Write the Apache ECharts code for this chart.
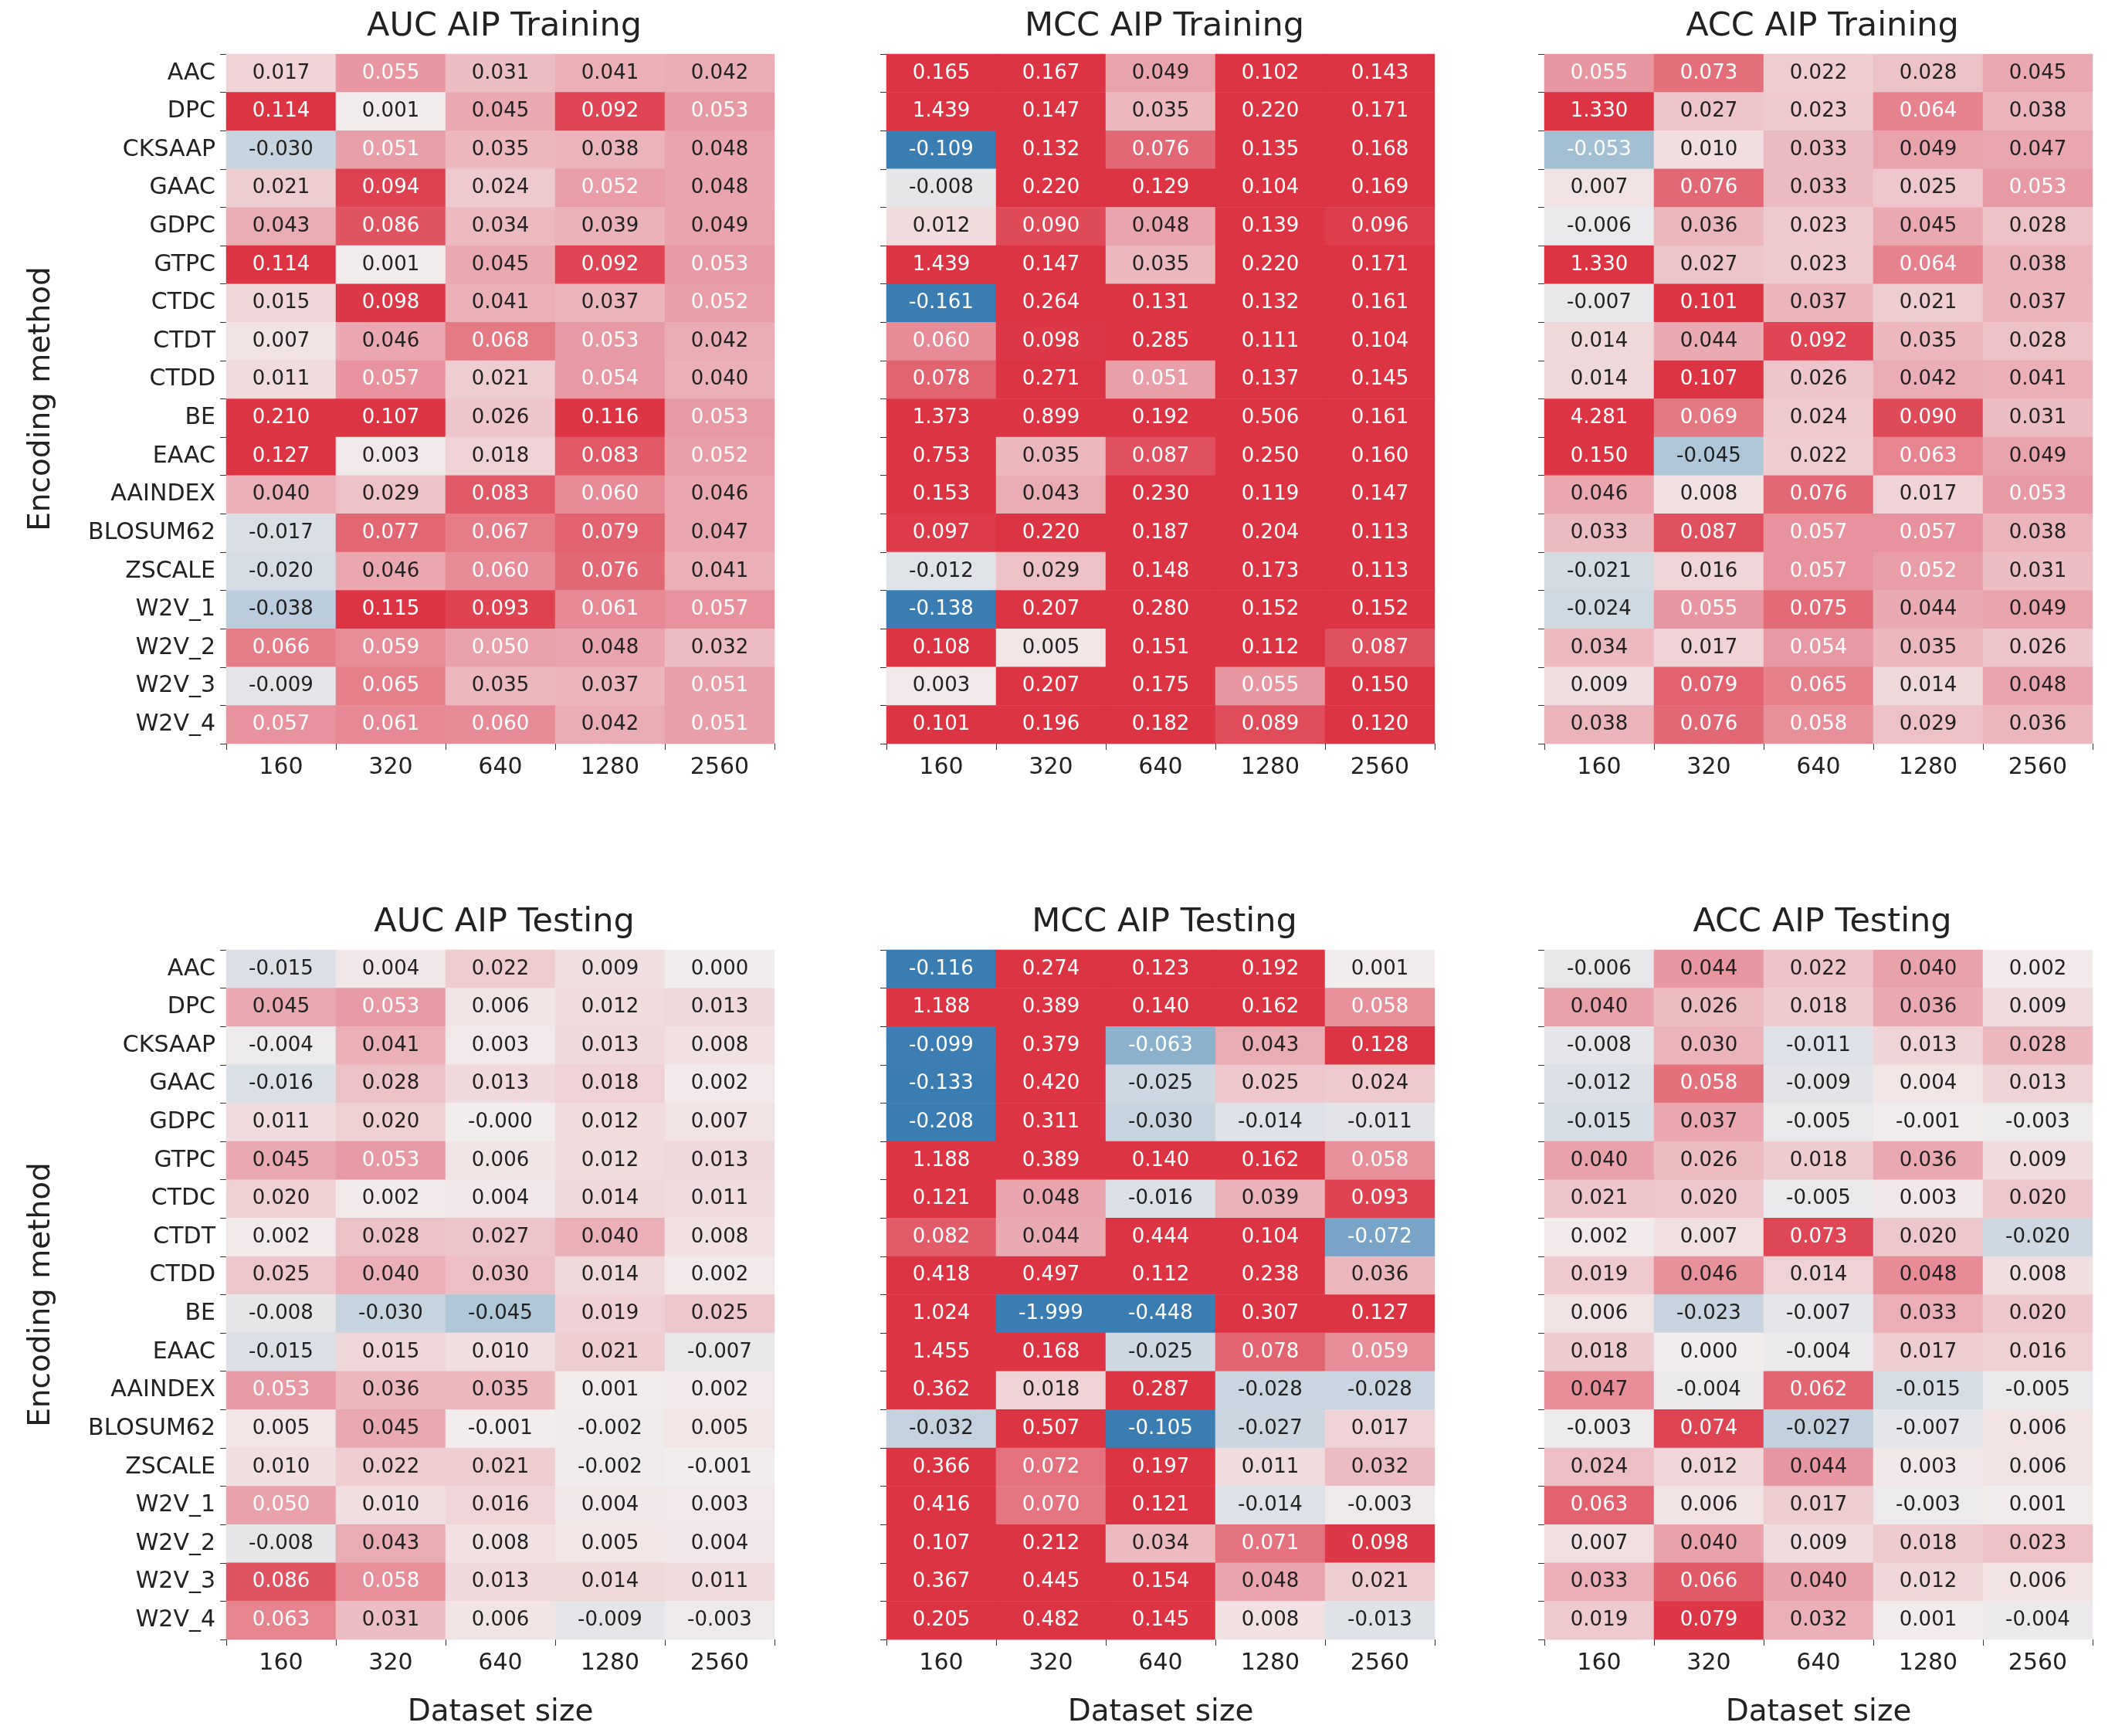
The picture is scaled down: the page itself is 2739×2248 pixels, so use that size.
<!DOCTYPE html>
<html>
<head>
    <meta charset="utf-8">
    <title>AIP heatmaps</title>
    <script src="https://cdn.jsdelivr.net/npm/echarts@6/dist/echarts.min.js"></script>
</head>
<body style="margin:0;background:#fff">
<div id="main" style="width:2739px;height:2248px;"></div>
<script type="text/javascript">
var sizes = ['160', '320', '640', '1280', '2560'];
var methods = ['AAC', 'DPC', 'CKSAAP', 'GAAC', 'GDPC', 'GTPC', 'CTDC', 'CTDT', 'CTDD', 'BE', 'EAAC',
    'AAINDEX', 'BLOSUM62', 'ZSCALE', 'W2V_1', 'W2V_2', 'W2V_3', 'W2V_4'];

var aucTrain = [
    [0.017, 0.055, 0.031, 0.041, 0.042], [0.114, 0.001, 0.045, 0.092, 0.053], [-0.030, 0.051, 0.035, 0.038, 0.048],
    [0.021, 0.094, 0.024, 0.052, 0.048], [0.043, 0.086, 0.034, 0.039, 0.049], [0.114, 0.001, 0.045, 0.092, 0.053],
    [0.015, 0.098, 0.041, 0.037, 0.052], [0.007, 0.046, 0.068, 0.053, 0.042], [0.011, 0.057, 0.021, 0.054, 0.040],
    [0.210, 0.107, 0.026, 0.116, 0.053], [0.127, 0.003, 0.018, 0.083, 0.052], [0.040, 0.029, 0.083, 0.060, 0.046],
    [-0.017, 0.077, 0.067, 0.079, 0.047], [-0.020, 0.046, 0.060, 0.076, 0.041], [-0.038, 0.115, 0.093, 0.061, 0.057],
    [0.066, 0.059, 0.050, 0.048, 0.032], [-0.009, 0.065, 0.035, 0.037, 0.051], [0.057, 0.061, 0.060, 0.042, 0.051]];
var mccTrain = [
    [0.165, 0.167, 0.049, 0.102, 0.143], [1.439, 0.147, 0.035, 0.220, 0.171], [-0.109, 0.132, 0.076, 0.135, 0.168],
    [-0.008, 0.220, 0.129, 0.104, 0.169], [0.012, 0.090, 0.048, 0.139, 0.096], [1.439, 0.147, 0.035, 0.220, 0.171],
    [-0.161, 0.264, 0.131, 0.132, 0.161], [0.060, 0.098, 0.285, 0.111, 0.104], [0.078, 0.271, 0.051, 0.137, 0.145],
    [1.373, 0.899, 0.192, 0.506, 0.161], [0.753, 0.035, 0.087, 0.250, 0.160], [0.153, 0.043, 0.230, 0.119, 0.147],
    [0.097, 0.220, 0.187, 0.204, 0.113], [-0.012, 0.029, 0.148, 0.173, 0.113], [-0.138, 0.207, 0.280, 0.152, 0.152],
    [0.108, 0.005, 0.151, 0.112, 0.087], [0.003, 0.207, 0.175, 0.055, 0.150], [0.101, 0.196, 0.182, 0.089, 0.120]];
var accTrain = [
    [0.055, 0.073, 0.022, 0.028, 0.045], [1.330, 0.027, 0.023, 0.064, 0.038], [-0.053, 0.010, 0.033, 0.049, 0.047],
    [0.007, 0.076, 0.033, 0.025, 0.053], [-0.006, 0.036, 0.023, 0.045, 0.028], [1.330, 0.027, 0.023, 0.064, 0.038],
    [-0.007, 0.101, 0.037, 0.021, 0.037], [0.014, 0.044, 0.092, 0.035, 0.028], [0.014, 0.107, 0.026, 0.042, 0.041],
    [4.281, 0.069, 0.024, 0.090, 0.031], [0.150, -0.045, 0.022, 0.063, 0.049], [0.046, 0.008, 0.076, 0.017, 0.053],
    [0.033, 0.087, 0.057, 0.057, 0.038], [-0.021, 0.016, 0.057, 0.052, 0.031], [-0.024, 0.055, 0.075, 0.044, 0.049],
    [0.034, 0.017, 0.054, 0.035, 0.026], [0.009, 0.079, 0.065, 0.014, 0.048], [0.038, 0.076, 0.058, 0.029, 0.036]];
var aucTest = [
    [-0.015, 0.004, 0.022, 0.009, 0.000], [0.045, 0.053, 0.006, 0.012, 0.013], [-0.004, 0.041, 0.003, 0.013, 0.008],
    [-0.016, 0.028, 0.013, 0.018, 0.002], [0.011, 0.020, -0.0, 0.012, 0.007], [0.045, 0.053, 0.006, 0.012, 0.013],
    [0.020, 0.002, 0.004, 0.014, 0.011], [0.002, 0.028, 0.027, 0.040, 0.008], [0.025, 0.040, 0.030, 0.014, 0.002],
    [-0.008, -0.030, -0.045, 0.019, 0.025], [-0.015, 0.015, 0.010, 0.021, -0.007], [0.053, 0.036, 0.035, 0.001, 0.002],
    [0.005, 0.045, -0.001, -0.002, 0.005], [0.010, 0.022, 0.021, -0.002, -0.001], [0.050, 0.010, 0.016, 0.004, 0.003],
    [-0.008, 0.043, 0.008, 0.005, 0.004], [0.086, 0.058, 0.013, 0.014, 0.011], [0.063, 0.031, 0.006, -0.009, -0.003]];
var mccTest = [
    [-0.116, 0.274, 0.123, 0.192, 0.001], [1.188, 0.389, 0.140, 0.162, 0.058], [-0.099, 0.379, -0.063, 0.043, 0.128],
    [-0.133, 0.420, -0.025, 0.025, 0.024], [-0.208, 0.311, -0.030, -0.014, -0.011], [1.188, 0.389, 0.140, 0.162, 0.058],
    [0.121, 0.048, -0.016, 0.039, 0.093], [0.082, 0.044, 0.444, 0.104, -0.072], [0.418, 0.497, 0.112, 0.238, 0.036],
    [1.024, -1.999, -0.448, 0.307, 0.127], [1.455, 0.168, -0.025, 0.078, 0.059], [0.362, 0.018, 0.287, -0.028, -0.028],
    [-0.032, 0.507, -0.105, -0.027, 0.017], [0.366, 0.072, 0.197, 0.011, 0.032], [0.416, 0.070, 0.121, -0.014, -0.003],
    [0.107, 0.212, 0.034, 0.071, 0.098], [0.367, 0.445, 0.154, 0.048, 0.021], [0.205, 0.482, 0.145, 0.008, -0.013]];
var accTest = [
    [-0.006, 0.044, 0.022, 0.040, 0.002], [0.040, 0.026, 0.018, 0.036, 0.009], [-0.008, 0.030, -0.011, 0.013, 0.028],
    [-0.012, 0.058, -0.009, 0.004, 0.013], [-0.015, 0.037, -0.005, -0.001, -0.003], [0.040, 0.026, 0.018, 0.036, 0.009],
    [0.021, 0.020, -0.005, 0.003, 0.020], [0.002, 0.007, 0.073, 0.020, -0.020], [0.019, 0.046, 0.014, 0.048, 0.008],
    [0.006, -0.023, -0.007, 0.033, 0.020], [0.018, 0.000, -0.004, 0.017, 0.016], [0.047, -0.004, 0.062, -0.015, -0.005],
    [-0.003, 0.074, -0.027, -0.007, 0.006], [0.024, 0.012, 0.044, 0.003, 0.006], [0.063, 0.006, 0.017, -0.003, 0.001],
    [0.007, 0.040, 0.009, 0.018, 0.023], [0.033, 0.066, 0.040, 0.012, 0.006], [0.019, 0.079, 0.032, 0.001, -0.004]];

var panels = [
    {title: 'AUC AIP Training', data: aucTrain, vmax: 0.1},
    {title: 'MCC AIP Training', data: mccTrain, vmax: 0.1},
    {title: 'ACC AIP Training', data: accTrain, vmax: 0.1},
    {title: 'AUC AIP Testing', data: aucTest, vmax: 0.1},
    {title: 'MCC AIP Testing', data: mccTest, vmax: 0.1},
    {title: 'ACC AIP Testing', data: accTest, vmax: 0.08}
];

var lefts = [293, 1148, 2000];
var tops = [70, 1230];
var gw = 710, gh = 893;
var font = 'DejaVu Sans';

function fmt(v) {
    if (v < 0 || Object.is(v, -0)) return '-' + Math.abs(v).toFixed(3);
    return v.toFixed(3);
}

var option = {backgroundColor: '#fff', title: [], grid: [], xAxis: [], yAxis: [], visualMap: [], series: []};

panels.forEach(function (p, i) {
    var col = i % 3, row = Math.floor(i / 3);
    option.title.push({
        text: p.title, left: lefts[col] + gw / 2, top: tops[row] - 62, textAlign: 'center',
        textStyle: {fontFamily: font, fontSize: 43, fontWeight: 'normal', color: '#222'}
    });
    option.grid.push({left: lefts[col], top: tops[row], width: gw, height: gh});
    option.xAxis.push({
        type: 'category', gridIndex: i, data: sizes,
        name: row == 1 ? 'Dataset size' : '', nameLocation: 'middle', nameGap: 75,
        nameTextStyle: {fontFamily: font, fontSize: 39, color: '#222'},
        axisLine: {show: false}, axisTick: {show: true, length: 8, lineStyle: {color: '#333'}},
        axisLabel: {fontFamily: font, fontSize: 30, color: '#222', margin: 16},
        splitLine: {show: false}
    });
    option.yAxis.push({
        type: 'category', gridIndex: i, data: methods, inverse: true,
        name: col == 0 ? 'Encoding method' : '', nameLocation: 'middle', nameGap: 220,
        nameTextStyle: {fontFamily: font, fontSize: 39, color: '#222'},
        axisLine: {show: false}, axisTick: {show: true, length: 8, lineStyle: {color: '#333'}},
        axisLabel: {show: col == 0, fontFamily: font, fontSize: 30, color: '#222', margin: 14},
        splitLine: {show: false}
    });
    var pts = [];
    p.data.forEach(function (r, y) {
        r.forEach(function (v, x) {
            pts.push({
                value: [x, y, v],
                label: {color: Math.abs(v) >= 0.05 ? '#fff' : '#222'}
            });
        });
    });
    option.visualMap.push({
        show: false, seriesIndex: i, dimension: 2, min: -p.vmax, max: p.vmax,
        inRange: {color: ['#3a7db3', '#a9c3d6', '#f2eded', '#e9a1aa', '#dd3444']}
    });
    option.series.push({
        type: 'heatmap', xAxisIndex: i, yAxisIndex: i, data: pts,
        label: {show: true, fontFamily: font, fontSize: 26, formatter: function (d) { return fmt(d.value[2]); }},
        itemStyle: {borderWidth: 0}
    });
});

var chart = echarts.init(document.getElementById('main'));
chart.setOption(option);
</script>
</body>
</html>
